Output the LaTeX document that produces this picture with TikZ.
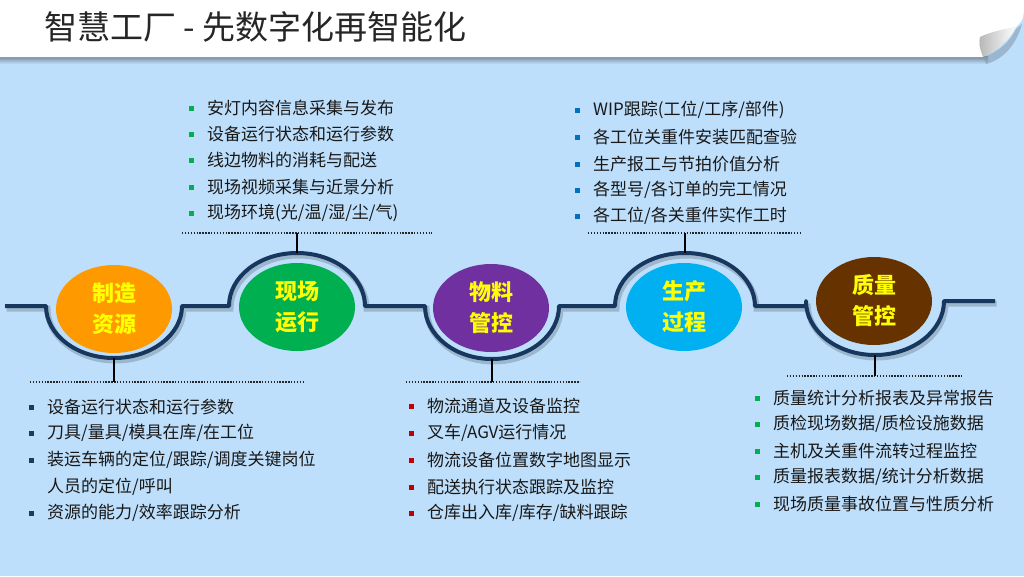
\documentclass[tikz,border=0pt]{standalone}
\usepackage{fontspec}
\setmainfont{Noto Sans CJK SC}
\usetikzlibrary{shapes.geometric}
\definecolor{bg}{RGB}{190,223,251}
\definecolor{navy}{RGB}{23,55,94}
\definecolor{txt}{RGB}{24,24,24}
\definecolor{cgreen}{RGB}{0,176,80}
\definecolor{cblue}{RGB}{0,112,192}
\definecolor{cnavy}{RGB}{31,56,100}
\definecolor{cred}{RGB}{192,0,0}
\definecolor{corange}{RGB}{255,153,0}
\definecolor{cpurple}{RGB}{112,48,160}
\definecolor{ccyan}{RGB}{0,176,240}
\definecolor{cbrown}{RGB}{102,51,0}
\definecolor{cyellow}{RGB}{255,255,0}
\newcommand\myitem[5]{%
  \node[bsq, fill=#4] (#1b) at (#2-16,#3) {};
  \node[itm] (#1) at (#2,#3) {#5};}
\begin{document}
\begin{tikzpicture}[x=1pt,y=-1pt,
  ell/.style={ellipse, minimum width=116pt, minimum height=88pt, inner sep=0pt,
    text=cyellow, align=center, font=\fontsize{22}{31}\selectfont\bfseries},
  itm/.style={anchor=west, inner sep=0pt, text=txt, font=\fontsize{17}{17}\selectfont},
  bsq/.style={rectangle, minimum size=5pt, inner sep=0pt},
  dotline/.style={line width=1.8pt, dash pattern=on 1.4pt off 1.5pt, black!85},
  conn/.style={line width=2pt, black},
  tline/.style={line width=4pt, navy, line join=round}]
\useasboundingbox (0,0) rectangle (1024,576);
\fill[bg] (0,0) rectangle (1024,576);

% title band
\shade[top color=black!40!bg, bottom color=bg] (0,56) rectangle (988,64);
\fill[black!30!bg, opacity=.6] (983,57) .. controls (998,52) and (1010,42) .. (1016,29)
  -- (1022,24) .. controls (1016,46) and (1002,60) .. (986,64) -- cycle;
\fill[white] (0,0) -- (1024,0) -- (1024,10) .. controls (1023,20) .. (1016,27)
  .. controls (1000,30) and (988,33) .. (980,37) .. controls (979,45) .. (983,57) -- (0,57) -- cycle;
\shade[left color=black!28, right color=white] (980,37) .. controls (988,33) and (1000,30) .. (1016,27)
  .. controls (1008,42) and (995,52) .. (983,57) .. controls (979,45) .. (980,37);
\node[anchor=west, inner sep=0pt, text=black!85, font=\fontsize{33}{33}\selectfont] (title) at (44,27)
  {智慧工厂 - 先数字化再智能化};

% timeline shadow and line
\draw[line width=6pt, black, opacity=.18, shift={(1.5,2.5)}]
  (5,306) -- (46,306) arc[start angle=180,end angle=360,x radius=68pt,y radius=52pt]
  -- (229,306) arc[start angle=180,end angle=0,x radius=68pt,y radius=53pt]
  -- (425,306) arc[start angle=180,end angle=360,x radius=67pt,y radius=53pt]
  -- (615,306) arc[start angle=180,end angle=0,x radius=70pt,y radius=53pt]
  -- (806,306) -- (806,301) arc[start angle=180,end angle=360,x radius=69pt,y radius=54pt]
  -- (995,301);
\draw[tline]
  (5,306) -- (46,306) arc[start angle=180,end angle=360,x radius=68pt,y radius=52pt]
  -- (229,306) arc[start angle=180,end angle=0,x radius=68pt,y radius=53pt]
  -- (425,306) arc[start angle=180,end angle=360,x radius=67pt,y radius=53pt]
  -- (615,306) arc[start angle=180,end angle=0,x radius=70pt,y radius=53pt]
  -- (806,306) -- (806,301) arc[start angle=180,end angle=360,x radius=69pt,y radius=54pt]
  -- (995,301);

% ellipses
\node[ell, fill=corange] (e1) at (114,309) {制造\\资源};
\node[ell, fill=cgreen]  (e2) at (297,307) {现场\\运行};
\node[ell, fill=cpurple] (e3) at (491,308) {物料\\管控};
\node[ell, fill=ccyan]   (e4) at (684,307) {生产\\过程};
\node[ell, fill=cbrown]  (e5) at (874,301) {质量\\管控};

% arc anchor points
\coordinate (a1) at (114,358);
\coordinate (a2) at (297,253);
\coordinate (a3) at (492,359);
\coordinate (a4) at (685,253);
\coordinate (a5) at (875,355);
% dotted line junctions
\coordinate (d1) at (114,382);
\coordinate (d2) at (297,233);
\coordinate (d3) at (492,382);
\coordinate (d4) at (685,233);
\coordinate (d5) at (875,376);
\coordinate (d1l) at (30,382);  \coordinate (d1r) at (303,382);
\coordinate (d2l) at (182,233); \coordinate (d2r) at (432,233);
\coordinate (d3l) at (406,382); \coordinate (d3r) at (580,382);
\coordinate (d4l) at (588,233); \coordinate (d4r) at (802,233);
\coordinate (d5l) at (787,376); \coordinate (d5r) at (963,376);

\draw[dotline] (d1l) -- (d1r);
\draw[dotline] (d2l) -- (d2r);
\draw[dotline] (d3l) -- (d3r);
\draw[dotline] (d4l) -- (d4r);
\draw[dotline] (d5l) -- (d5r);
\draw[conn] (a1) -- (d1);
\draw[conn] (a2) -- (d2);
\draw[conn] (a3) -- (d3);
\draw[conn] (a4) -- (d4);
\draw[conn] (a5) -- (d5);

% top-left list
\myitem{tl1}{207}{108}{cgreen}{安灯内容信息采集与发布}
\myitem{tl2}{207}{134}{cgreen}{设备运行状态和运行参数}
\myitem{tl3}{207}{160}{cgreen}{线边物料的消耗与配送}
\myitem{tl4}{207}{187}{cgreen}{现场视频采集与近景分析}
\myitem{tl5}{207}{213}{cgreen}{现场环境(光/温/湿/尘/气)}

% top-right list
\myitem{tr1}{593}{110}{cblue}{WIP跟踪(工位/工序/部件)}
\myitem{tr2}{593}{137}{cblue}{各工位关重件安装匹配查验}
\myitem{tr3}{593}{164}{cblue}{生产报工与节拍价值分析}
\myitem{tr4}{593}{190}{cblue}{各型号/各订单的完工情况}
\myitem{tr5}{593}{216}{cblue}{各工位/各关重件实作工时}

% bottom-left list
\myitem{bl1}{47}{407}{cnavy}{设备运行状态和运行参数}
\myitem{bl2}{47}{433}{cnavy}{刀具/量具/模具在库/在工位}
\myitem{bl3}{47}{460}{cnavy}{装运车辆的定位/跟踪/调度关键岗位}
\node[itm] (bl3b2) at (47,487) {人员的定位/呼叫};
\myitem{bl4}{47}{513}{cnavy}{资源的能力/效率跟踪分析}

% bottom-middle list
\myitem{bm1}{427}{406}{cred}{物流通道及设备监控}
\myitem{bm2}{427}{433}{cred}{叉车/AGV运行情况}
\myitem{bm3}{427}{460}{cred}{物流设备位置数字地图显示}
\myitem{bm4}{427}{487}{cred}{配送执行状态跟踪及监控}
\myitem{bm5}{427}{513}{cred}{仓库出入库/库存/缺料跟踪}

% bottom-right list
\myitem{br1}{773}{398}{cgreen}{质量统计分析报表及异常报告}
\myitem{br2}{773}{424}{cgreen}{质检现场数据/质检设施数据}
\myitem{br3}{773}{451}{cgreen}{主机及关重件流转过程监控}
\myitem{br4}{773}{477}{cgreen}{质量报表数据/统计分析数据}
\myitem{br5}{773}{504}{cgreen}{现场质量事故位置与性质分析}
\end{tikzpicture}
\end{document}
